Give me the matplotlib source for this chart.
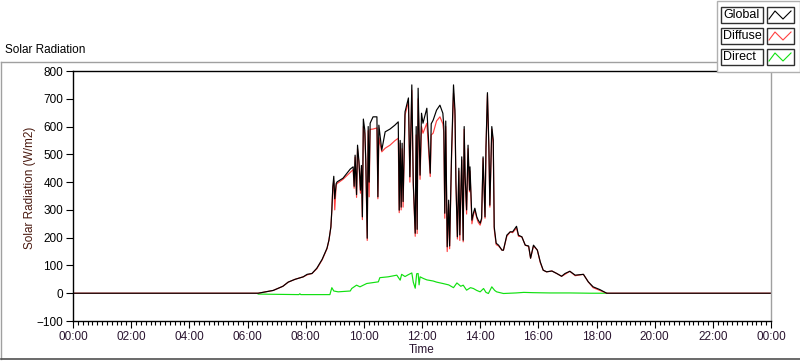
import matplotlib
matplotlib.use("Agg")
import matplotlib.pyplot as plt
from matplotlib.patches import Rectangle
from matplotlib.lines import Line2D

plt.rcParams['font.family'] = ['Liberation Sans', 'DejaVu Sans']

# minutes since midnight
minutes = [0, 382, 413, 433, 444, 458, 475, 483, 493, 503, 514, 524, 528, 532, 534, 536, 538, 540, 543, 545,
           557, 572, 578, 580, 582, 585, 587, 590, 593, 595, 597, 599, 602, 604, 607, 609, 611, 613, 619, 627,
           629, 631, 637, 644, 654, 664, 671, 673, 675, 677, 679, 681, 685, 692, 695, 699, 702, 706, 708, 710,
           712, 716, 719, 722, 730, 732, 737, 739, 743, 750, 757, 763, 765, 767, 769, 772, 775, 777, 781, 785,
           788, 790, 793, 796, 798, 802, 805, 807, 809, 812, 815, 818, 819, 823, 826, 829, 833, 836, 840, 843,
           846, 850, 852, 855, 858, 860, 864, 867, 869, 873, 878, 885, 888, 895, 902, 907, 915, 919, 926, 933,
           940, 944, 950, 958, 964, 970, 977, 988, 998, 1008, 1015, 1025, 1036, 1053, 1063, 1073, 1087, 1101, 1440]

global_rad = [0, 0, 10, 25, 40, 50, 59, 68, 71, 90, 122, 162, 191, 239, 299, 383, 421, 340, 395, 401,
              414, 447, 455, 385, 497, 355, 533, 473, 371, 460, 275, 627, 587, 480, 198, 600, 400, 612, 635, 635,
              347, 605, 515, 581, 591, 605, 617, 299, 550, 310, 540, 330, 653, 703, 419, 750, 400, 216, 600, 230,
              738, 425, 648, 612, 666, 600, 432, 610, 623, 659, 677, 648, 600, 288, 620, 167, 335, 170, 504, 750,
              659, 400, 203, 450, 210, 491, 191, 600, 419, 300, 533, 371, 455, 263, 288, 306, 275, 263, 252, 270,
              491, 275, 527, 722, 527, 317, 600, 551, 239, 180, 173, 155, 155, 209, 221, 221, 241, 209, 203, 173,
              170, 126, 173, 155, 113, 83, 77, 80, 71, 61, 71, 79, 65, 68, 41, 23, 13, 0, 0]

diffuse_rad = [0, 0, 10, 25, 40, 50, 59, 66, 71, 88, 120, 160, 191, 237, 299, 380, 405, 300, 390, 395,
               410, 435, 445, 378, 490, 345, 520, 465, 360, 450, 265, 600, 575, 470, 190, 585, 347, 590, 591, 595,
               340, 560, 509, 522, 533, 549, 558, 290, 540, 300, 520, 310, 641, 690, 400, 730, 390, 205, 570, 215,
               700, 410, 600, 576, 612, 560, 420, 570, 576, 620, 635, 610, 580, 270, 600, 150, 320, 160, 490, 720,
               640, 390, 195, 440, 190, 480, 185, 590, 410, 285, 520, 365, 440, 250, 280, 300, 270, 255, 245, 265,
               485, 270, 520, 715, 515, 310, 590, 540, 230, 175, 170, 155, 155, 205, 221, 218, 235, 205, 203, 173,
               168, 126, 170, 155, 110, 83, 77, 80, 71, 61, 68, 79, 63, 68, 41, 20, 10, 0, 0]

direct_minutes = [382, 420, 466, 468, 470, 530, 534, 538, 547, 572, 575, 585, 592, 606, 630, 633, 650, 668,
                  675, 678, 685, 691, 699, 702, 706, 709, 712, 714, 716, 723, 730, 743, 750, 763, 775, 785, 792,
                  800, 805, 812, 820, 826, 833, 840, 847, 852, 857, 864, 870, 874, 888, 914, 930, 949, 984, 1025,
                  1067, 1101]
direct_rad = [-3, -4, -5, -2, -5, -5, 20, 8, 5, 8, 17, 29, 23, 35, 41, 56, 59, 65,
              47, 68, 60, 66, 73, 40, 18, 70, 71, 30, 59, 53, 48, 44, 40, 35, 30, 20, 37,
              25, 29, 11, 20, 17, 10, 5, 17, 3, -1, 23, 10, 5, -1, 1, 3, 2, 1, 1,
              0, 0]

tick_minutes = list(range(0, 1441, 120))
tick_labels = ['00:00', '02:00', '04:00', '06:00', '08:00', '10:00', '12:00',
               '14:00', '16:00', '18:00', '20:00', '22:00', '00:00']
series_names = ['Global', 'Diffuse', 'Direct']
series_colors = ['#000000', '#ff4040', '#10e010']

W, H = 800, 361
fig = plt.figure(figsize=(8, 3.61), dpi=100)


def fx(x):
    return x / W


def fy(y):
    return 1 - y / H


ax = fig.add_axes([fx(73), fy(321), fx(771) - fx(73), fy(71) - fy(321)])
ax.plot(direct_minutes, direct_rad, color=series_colors[2], lw=0.85)
ax.plot(minutes, diffuse_rad, color=series_colors[1], lw=0.85)
ax.plot(minutes, global_rad, color=series_colors[0], lw=0.85)

ax.set_xlim(0, 1440)
ax.set_ylim(-100, 800)
ax.set_yticks(range(-100, 801, 100))
ax.set_xticks(tick_minutes)
ax.set_xticklabels(tick_labels)
ax.set_xticks(range(0, 1441, 10), minor=True)
ax.tick_params(axis='both', which='major', labelsize=8.5, length=5, width=0.8, pad=2, color='black')
ax.tick_params(axis='x', which='minor', length=3, width=0.8, color='black')
ax.tick_params(axis='x', labelcolor='#2a1530')
for s in ['left', 'bottom', 'top']:
    ax.spines[s].set_color('black')
    ax.spines[s].set_linewidth(1.0)
ax.spines['right'].set_color('#a0a0a0')
ax.spines['right'].set_linewidth(1.0)
ax.set_xlabel('Time', fontsize=8.5, color='#2a1530', labelpad=1)

fig.text(fx(30), fy(188), 'Solar Radiation (W/m2)', rotation=90, ha='center', va='center',
         fontsize=8.5, color='#4a1a10')
fig.text(fx(5), fy(50), 'Solar Radiation', ha='left', va='center', fontsize=8.5, color='black')

# outer frame
frame_kw = dict(transform=fig.transFigure, color='#a0a0a0', lw=1.0)
fig.add_artist(Line2D([fx(1), fx(717)], [fy(62), fy(62)], **frame_kw))
fig.add_artist(Line2D([fx(1), fx(1)], [fy(62), fy(359)], **frame_kw))
fig.add_artist(Line2D([fx(1), fx(800)], [fy(359), fy(359)], transform=fig.transFigure,
                      color='#505050', lw=1.2))

# legend panel
fig.add_artist(Rectangle((fx(717), fy(72)), fx(83), fy(1) - fy(72), transform=fig.transFigure,
                         facecolor='white', edgecolor='#b0b0b0', lw=1.0, zorder=5))
row_centers = [15, 36, 57]
for name, col, yc in zip(series_names, series_colors, row_centers):
    fig.add_artist(Rectangle((fx(721), fy(yc + 8)), fx(42), fy(0) - fy(16), transform=fig.transFigure,
                             facecolor='white', edgecolor='#303030', lw=1.0, zorder=6))
    fig.text(fx(723), fy(yc), name, ha='left', va='center', fontsize=9, color='black', zorder=7)
    fig.add_artist(Rectangle((fx(767), fy(yc + 8)), fx(27), fy(0) - fy(16), transform=fig.transFigure,
                             facecolor='white', edgecolor='#303030', lw=1.0, zorder=6))
    zx = [769, 775, 783, 791]
    zy = [yc + 4, yc - 4, yc + 4, yc - 4]
    fig.add_artist(Line2D([fx(v) for v in zx], [fy(v) for v in zy], transform=fig.transFigure,
                          color=col, lw=0.8, zorder=7))

fig.savefig('out.png', dpi=100)
